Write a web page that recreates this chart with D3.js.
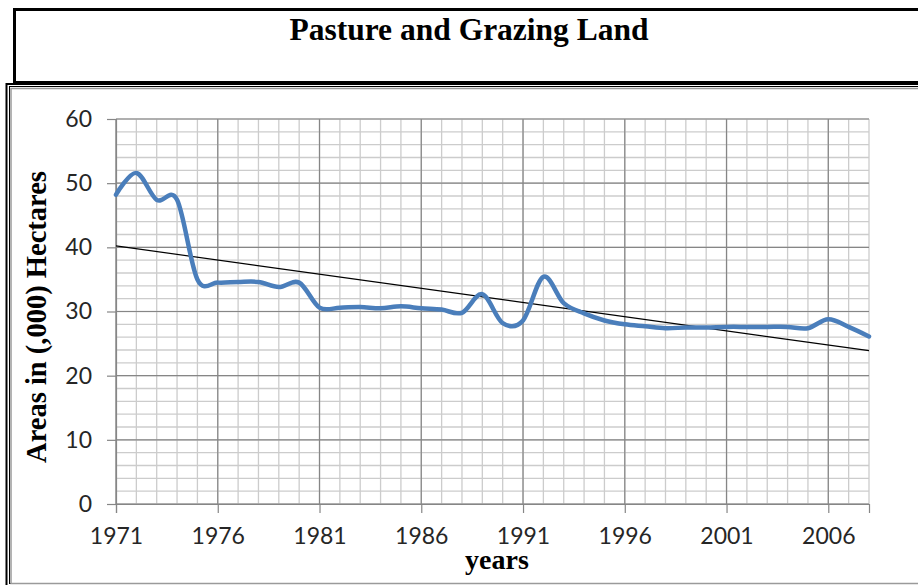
<!DOCTYPE html>
<html>
<head>
<meta charset="utf-8">
<script src="https://cdn.jsdelivr.net/npm/d3@7"></script>
<style>
  html, body { margin: 0; padding: 0; background: #fff; }
  svg { display: block; }
</style>
</head>
<body>
<svg id="chart" width="918" height="585"></svg>
<script>
// ---- data ----
const years = [1971,1972,1973,1974,1975,1976,1977,1978,1979,1980,
               1981,1982,1983,1984,1985,1986,1987,1988,1989,1990,
               1991,1992,1993,1994,1995,1996,1997,1998,1999,2000,
               2001,2002,2003,2004,2005,2006,2007,2008];
const areas = [48.2,51.6,47.4,47.4,35.0,34.5,34.6,34.6,33.8,34.5,
               30.6,30.6,30.7,30.5,30.8,30.5,30.3,29.8,32.7,28.2,
               28.6,35.4,31.3,29.7,28.6,28.0,27.7,27.4,27.5,27.5,
               27.6,27.6,27.6,27.6,27.4,28.8,27.6,26.1];
const xTickLabels = [1971,1976,1981,1986,1991,1996,2001,2006];
const yTickLabels = [0,10,20,30,40,50,60];
const titleText = "Pasture and Grazing Land";
const xTitle = "years";
const yTitle = "Areas in (,000) Hectares";

// ---- layout ----
const svg = d3.select("#chart");
const x = d3.scaleLinear().domain([1971, 2008]).range([116, 869]);
const y = d3.scaleLinear().domain([0, 60]).range([504, 119]);

// frames
svg.append("rect").attr("x", 14.5).attr("y", 9.5).attr("width", 920).attr("height", 73)
  .attr("fill", "none").attr("stroke", "#000").attr("stroke-width", 3);
svg.append("rect").attr("x", 6.5).attr("y", 84).attr("width", 930).attr("height", 520)
  .attr("fill", "none").attr("stroke", "#000").attr("stroke-width", 2);
svg.append("rect").attr("x", 9.5).attr("y", 86.5).attr("width", 930).attr("height", 497)
  .attr("fill", "none").attr("stroke", "#000").attr("stroke-width", 1);
svg.append("rect").attr("x", 11).attr("y", 88.5).attr("width", 930).attr("height", 495)
  .attr("fill", "none").attr("stroke", "#9a9a9a").attr("stroke-width", 1.5);

// title
svg.append("text").attr("x", 469).attr("y", 40).attr("text-anchor", "middle")
  .attr("font-family", "'Liberation Serif', 'Times New Roman', serif")
  .attr("font-weight", "bold").attr("font-size", 31.5).attr("fill", "#000")
  .text(titleText);

// grid
const minorYears = d3.range(1971, 2009, 1);
const majorYears = xTickLabels;
const minorVals = d3.range(0, 61, 2);
const g = svg.append("g");
g.selectAll(".vminor").data(minorYears).join("line")
  .attr("x1", d => x(d)).attr("x2", d => x(d)).attr("y1", y(60)).attr("y2", y(0))
  .attr("stroke", "#cccccc").attr("stroke-width", 1.3);
g.selectAll(".hminor").data(minorVals).join("line")
  .attr("x1", x(1971)).attr("x2", x(2008)).attr("y1", d => y(d)).attr("y2", d => y(d))
  .attr("stroke", "#cccccc").attr("stroke-width", 1.3);
g.selectAll(".vmajor").data(majorYears).join("line")
  .attr("x1", d => x(d)).attr("x2", d => x(d)).attr("y1", y(60)).attr("y2", y(0))
  .attr("stroke", "#868686").attr("stroke-width", 1.2);
g.selectAll(".hmajor").data(yTickLabels).join("line")
  .attr("x1", x(1971)).attr("x2", x(2008)).attr("y1", d => y(d)).attr("y2", d => y(d))
  .attr("stroke", "#868686").attr("stroke-width", 1.2);

// axes
const labelFont = "Lato, 'Open Sans', sans-serif";
const yAxis = d3.axisLeft(y).tickValues(yTickLabels).tickSize(9).tickPadding(15);
const yG = svg.append("g").attr("transform", `translate(${x(1971)},0)`).call(yAxis);
const xAxis = d3.axisBottom(x).tickValues(xTickLabels).tickSize(9).tickPadding(15)
  .tickFormat(d3.format("d"));
const xG = svg.append("g").attr("transform", `translate(0,${y(0)})`).call(xAxis);
[yG, xG].forEach(a => {
  a.select(".domain").attr("stroke", "#868686").attr("stroke-width", 1.2);
  a.selectAll(".tick line").attr("stroke", "#868686").attr("stroke-width", 1.2);
  a.selectAll(".tick text").attr("font-family", labelFont).attr("font-size", 23)
    .attr("fill", "#262626");
});

// trend line (linear least squares fit)
const mx = d3.mean(years), my = d3.mean(areas);
const sxy = d3.sum(years.map((t, i) => (t - mx) * (areas[i] - my)));
const sxx = d3.sum(years.map(t => (t - mx) * (t - mx)));
const slope = sxy / sxx, icpt = my - slope * mx;
svg.append("line")
  .attr("x1", x(1971)).attr("y1", y(icpt + slope * 1971))
  .attr("x2", x(2008)).attr("y2", y(icpt + slope * 2008))
  .attr("stroke", "#000").attr("stroke-width", 1.2);

// data line
const line = d3.line().x((d, i) => x(years[i])).y(d => y(d)).curve(d3.curveCatmullRom.alpha(0));
svg.append("path").datum(areas).attr("d", line)
  .attr("fill", "none").attr("stroke", "#4a7ebb").attr("stroke-width", 4.5)
  .attr("stroke-linejoin", "round").attr("stroke-linecap", "round");

// axis titles
svg.append("text").attr("x", 497).attr("y", 569).attr("text-anchor", "middle")
  .attr("font-family", "'Liberation Serif', 'Times New Roman', serif")
  .attr("font-weight", "bold").attr("font-size", 28).attr("fill", "#000")
  .text(xTitle);
svg.append("text").attr("transform", "translate(46,317) rotate(-90)")
  .attr("text-anchor", "middle")
  .attr("font-family", "'Liberation Serif', 'Times New Roman', serif")
  .attr("font-weight", "bold").attr("font-size", 28.5).attr("fill", "#000")
  .text(yTitle);
</script>
</body>
</html>
